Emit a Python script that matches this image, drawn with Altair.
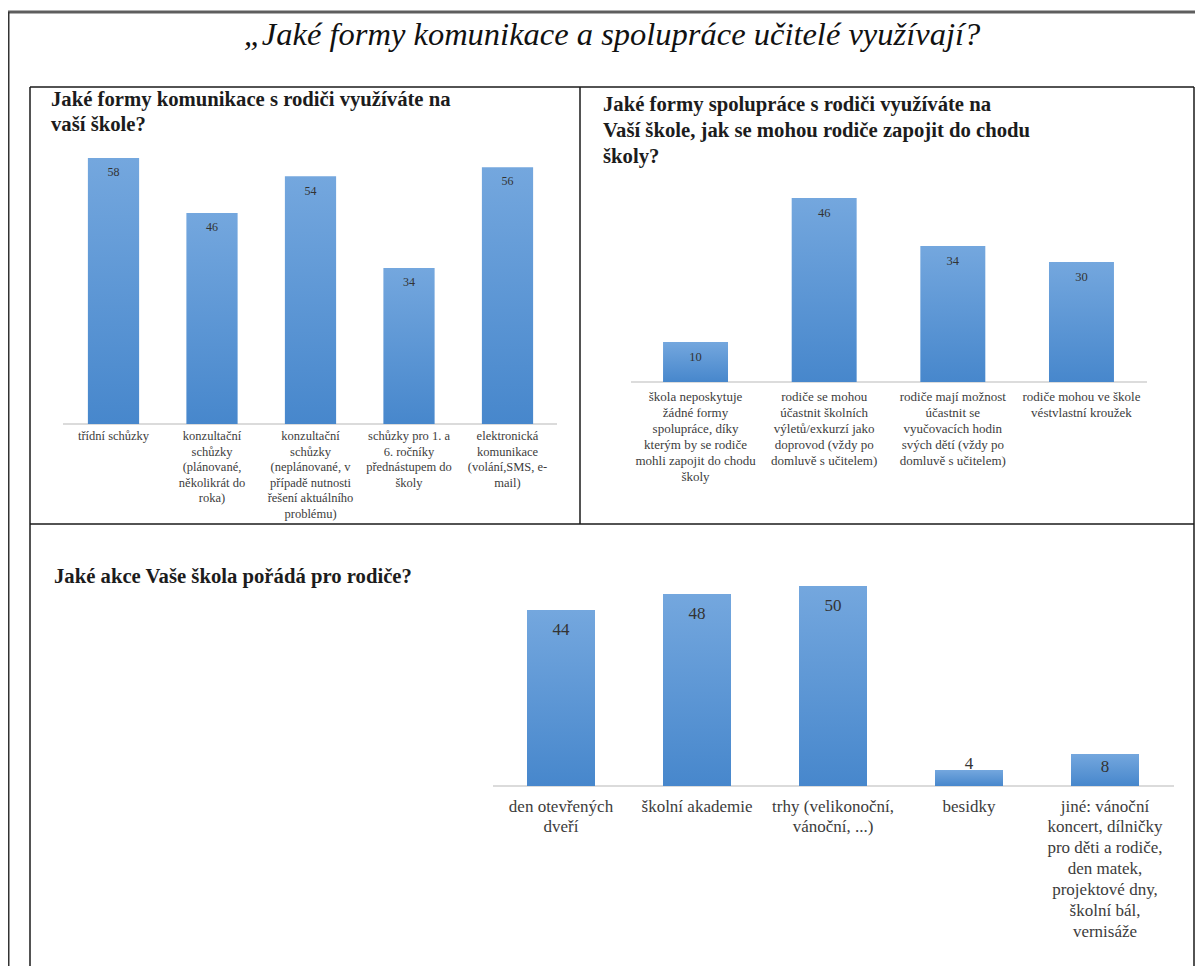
import altair as alt
import pandas as pd

# ---------------- data ----------------
main_title = "„Jaké formy komunikace a spolupráce učitelé využívají?"

q1_title = ["Jaké formy komunikace s rodiči využíváte na", "vaší škole?"]
q1_cats = [
    "třídní schůzky",
    "konzultační\nschůzky\n(plánované,\nněkolikrát do\nroka)",
    "konzultační\nschůzky\n(neplánované, v\npřípadě nutnosti\nřešení aktuálního\nproblému)",
    "schůzky pro 1. a\n6. ročníky\npřednástupem do\nškoly",
    "elektronická\nkomunikace\n(volání,SMS, e-\nmail)",
]
q1_vals = [58, 46, 54, 34, 56]

q2_title = ["Jaké formy spolupráce s rodiči využíváte na",
            "Vaší škole, jak se mohou rodiče zapojit do chodu",
            "školy?"]
q2_cats = [
    "škola neposkytuje\nžádné formy\nspolupráce, díky\nkterým by se rodiče\nmohli zapojit do chodu\nškoly",
    "rodiče se mohou\núčastnit školních\nvýletů/exkurzí jako\ndoprovod (vždy po\ndomluvě s učitelem)",
    "rodiče mají možnost\núčastnit se\nvyučovacích hodin\nsvých dětí (vždy po\ndomluvě s učitelem)",
    "rodiče mohou ve škole\nvéstvlastní kroužek",
]
q2_vals = [10, 46, 34, 30]

q3_title = ["Jaké akce Vaše škola pořádá pro rodiče?"]
q3_cats = [
    "den otevřených\ndveří",
    "školní akademie",
    "trhy (velikonoční,\nvánoční, ...)",
    "besidky",
    "jiné: vánoční\nkoncert, dílničky\npro děti a rodiče,\nden matek,\nprojektové dny,\nškolní bál,\nvernisáže",
]
q3_vals = [44, 48, 50, 4, 8]

# ---------------- styling ----------------
SERIF = "Liberation Serif"
BAR_FILL = alt.Gradient(
    gradient="linear",
    stops=[alt.GradientStop(color="#74a7de", offset=0),
           alt.GradientStop(color="#4787cc", offset=1)],
    x1=0, x2=0, y1=0, y2=1,
)
W, H = 1187, 958
one = pd.DataFrame({"k": [0]})


def hline(x1, x2, y, color="#1a1a1a", sw=1.5):
    return alt.Chart(one).mark_rule(color=color, strokeWidth=sw).encode(
        x=alt.value(x1), x2=alt.value(x2), y=alt.value(y))


def vline(x, y1, y2, color="#1a1a1a", sw=1.5):
    return alt.Chart(one).mark_rule(color=color, strokeWidth=sw).encode(
        x=alt.value(x), y=alt.value(y1), y2=alt.value(y2))


def title_text(lines, x, y, size, lh):
    return alt.Chart(one).mark_text(
        align="left", baseline="middle", font=SERIF, fontWeight="bold",
        fontSize=size, lineHeight=lh, lineBreak="\n", color="#1c1c1c",
    ).encode(x=alt.value(x), y=alt.value(y), text=alt.value("\n".join(lines)))


def panel(cats, vals, xr, yr, ymax, pad_in, base_x, lab_size, lab_lh, lab_dy,
          val_size, val_expr):
    df = pd.DataFrame({"cat": cats, "val": vals})
    df["zero"] = 0
    xs = alt.Scale(range=xr, paddingInner=pad_in, paddingOuter=pad_in / 2)
    ys = alt.Scale(domain=[0, ymax], range=yr, nice=False)
    x = alt.X("cat:N", sort=cats, scale=xs, axis=None)
    base = alt.Chart(df)
    axis_line = base.mark_rule(color="#d9d9d9", strokeWidth=1.2).encode(
        x=alt.value(base_x[0]), x2=alt.value(base_x[1]),
        y=alt.Y("zero:Q", scale=ys, axis=None))
    bars = base.mark_bar(color=BAR_FILL).encode(
        x=x, y=alt.Y("val:Q", scale=ys, axis=None))
    values = base.transform_calculate(ly=val_expr).mark_text(
        baseline="middle", align="center", font=SERIF, fontSize=val_size,
        color="#333333",
    ).encode(x=x, y=alt.Y("ly:Q", scale=ys, axis=None), text="val:Q")
    labels = base.mark_text(
        baseline="top", align="center", font=SERIF, fontSize=lab_size,
        lineHeight=lab_lh, lineBreak="\n", color="#3c3c3c", dy=lab_dy,
    ).encode(x=x, y=alt.Y("zero:Q", scale=ys, axis=None), text="cat:N")
    return [axis_line, bars, values, labels]


# panel 1 (top-left)
p1 = panel(q1_cats, q1_vals, [56.25, 548.75], [416, 150], 58, 0.48,
           (55, 549), 12.5, 15.6, 6, 12, "datum.val - 3.1")
# panel 2 (top-right)
p2 = panel(q2_cats, q2_vals, [623.2, 1137.8], [374, 190], 46, 0.495,
           (623, 1139), 13, 16, 9, 12.5, "datum.val - 3.8")
# panel 3 (bottom)
p3 = panel(q3_cats, q3_vals, [485, 1165], [778, 578], 50, 0.5,
           (485, 1166), 17, 20.9, 12.5, 17,
           "datum.val >= 10 ? datum.val - 5 : (datum.val >= 8 ? datum.val - 3.2 : datum.val + 1.6)")

decor = [
    hline(0, W, 4, color="#5e5e5e", sw=3),
    vline(0.75, 4, H, color="#333333", sw=1.5),
    hline(22, 1186, 79),
    vline(22, 79, H),
    vline(1186, 79, H),
    vline(572, 79, 516),
    hline(22, 1186, 516),
    alt.Chart(one).mark_text(
        align="center", baseline="middle", font=SERIF, fontStyle="italic",
        fontSize=32.5, color="#111111",
    ).encode(x=alt.value(604), y=alt.value(27), text=alt.value(main_title)),
    title_text(q1_title, 43, 92, 20.7, 25),
    title_text(q2_title, 595, 97, 20.7, 26),
    title_text(q3_title, 46, 569, 20.7, 25),
]

chart = alt.layer(*decor, *p1, *p2, *p3).resolve_scale(
    x="independent", y="independent"
).properties(
    width=W, height=H, padding=0, autosize=alt.AutoSizeParams(type="none")
).configure_view(stroke=None)

chart.save("out.html", embed_options={"renderer": "svg", "actions": False})
